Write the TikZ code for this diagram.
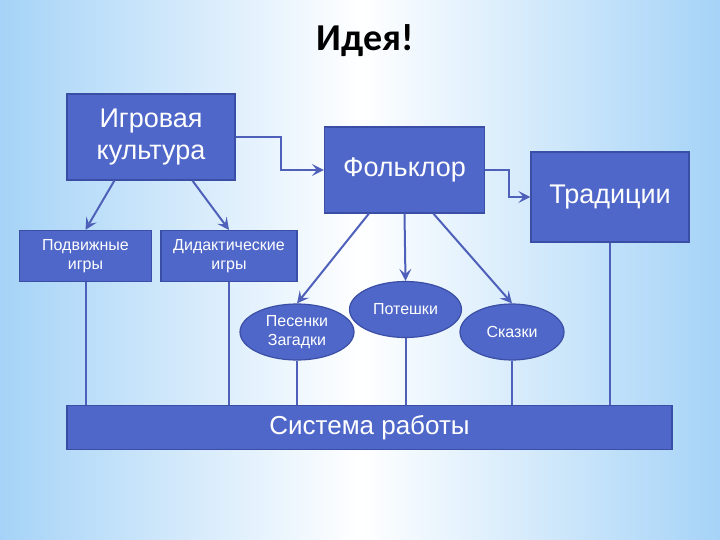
\documentclass[tikz,border=0pt]{standalone}
\usepackage{fontspec}
\setmainfont{Liberation Sans}
\newfontfamily\titlefont{Carlito}
\usetikzlibrary{shapes.geometric,arrows.meta}
\definecolor{boxfill}{RGB}{79,103,200}
\definecolor{boxdraw}{RGB}{58,78,165}
\definecolor{linec}{RGB}{78,96,185}
\definecolor{bgb}{RGB}{165,211,247}
\tikzset{
  bigbox/.style={rectangle, fill=boxfill, draw=boxdraw, line width=1.2pt, inner sep=0pt, text=white, align=center, font=\fontsize{27}{32.4}\selectfont},
  smallbox/.style={rectangle, fill=boxfill, draw=boxdraw, line width=1.2pt, inner sep=0pt, text=white, align=center, font=\fontsize{16}{19.2}\selectfont},
  ovalbox/.style={ellipse, fill=boxfill, draw=boxdraw, line width=1.2pt, inner sep=0pt, text=white, align=center, font=\fontsize{16}{19.2}\selectfont},
  arr/.style={draw=linec, line width=2pt, -{Stealth[length=12pt,width=12pt,inset=5pt]}},
  conn/.style={draw=linec, line width=2pt},
}
\begin{document}
\begin{tikzpicture}[x=1pt,y=-1pt]
\useasboundingbox (0,0) rectangle (720,540);
\shade[left color=bgb, right color=bgb, middle color=white] (0,0) rectangle (720,540);
\node (title) at (365,41) {\titlefont\bfseries\fontsize{38}{44}\selectfont Идея!};
\node[bigbox, minimum width=168pt, minimum height=86pt] (igr) at (151,137) {Игровая\\культура};
\node[bigbox, minimum width=160pt, minimum height=86pt] (fol) at (404.5,170) {Фольклор};
\node[bigbox, minimum width=158pt, minimum height=90pt] (tra) at (610,197) {Традиции};
\node[smallbox, minimum width=132pt, minimum height=51pt] (pod) at (85.5,256) {Подвижные\\игры};
\node[smallbox, minimum width=136pt, minimum height=51pt] (did) at (229,256) {Дидактические\\игры};
\node[ovalbox, minimum width=114pt, minimum height=56pt] (pes) at (297,332) {Песенки\\Загадки};
\node[ovalbox, minimum width=112pt, minimum height=56pt] (pot) at (405.5,309.5) {Потешки};
\node[ovalbox, minimum width=104pt, minimum height=56pt] (skz) at (512,332) {Сказки};
\node[bigbox, font=\fontsize{26}{31}\selectfont, minimum width=605pt, minimum height=44pt] (sys) at (369.5,427.5) {Система работы};
% arrows
\draw[arr] (igr.east) -- ++(45,0) |- (fol.west);
\draw[arr] (fol.east) -- ++(24,0) |- (tra.west);
\draw[arr] ([xshift=48pt]igr.south west) -- (pod.north);
\draw[arr] ([xshift=126pt]igr.south west) -- (did.north);
\draw[arr] ([xshift=45pt]fol.south west) -- (pes.north);
\draw[arr] (fol.south) -- (pot.north);
\draw[arr] ([xshift=109.5pt]fol.south west) -- (skz.north);
% lines to system
\draw[conn] (pod.south) -- (pod.south |- sys.north);
\draw[conn] (did.south) -- (did.south |- sys.north);
\draw[conn] (pes.south) -- (pes.south |- sys.north);
\draw[conn] (pot.south) -- (pot.south |- sys.north);
\draw[conn] (skz.south) -- (skz.south |- sys.north);
\draw[conn] (tra.south) -- (tra.south |- sys.north);
\end{tikzpicture}
\end{document}
